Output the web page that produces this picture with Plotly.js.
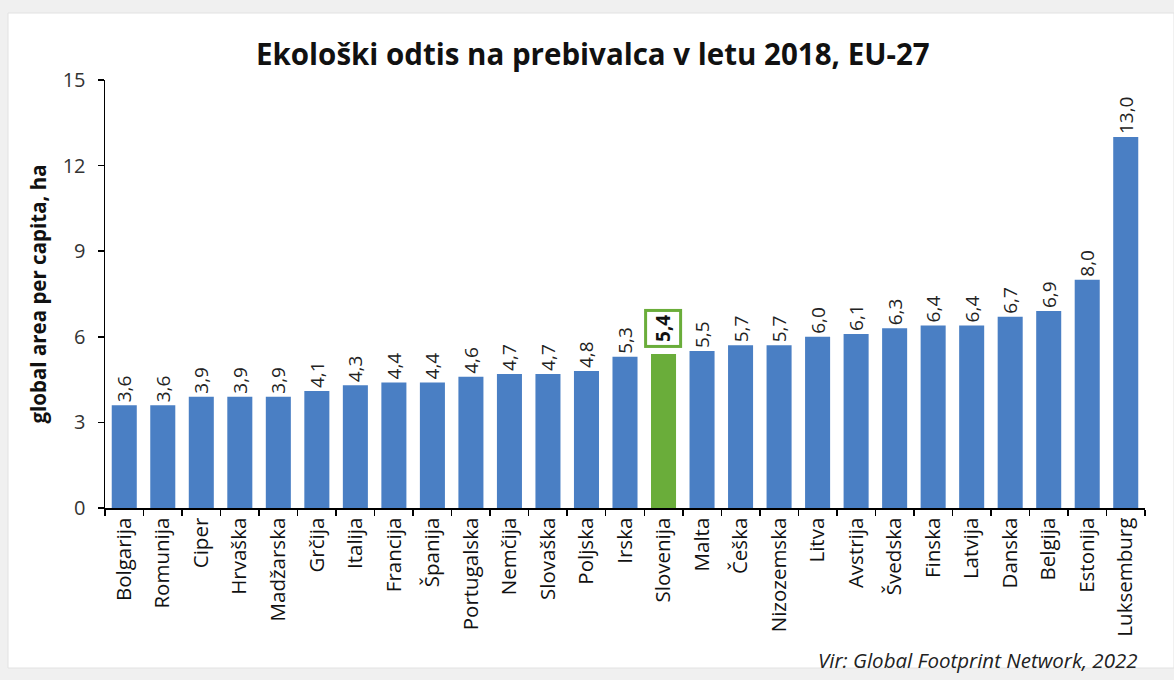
<!DOCTYPE html>
<html>
<head>
<meta charset="utf-8">
<script src="https://cdn.plot.ly/plotly-3.0.1.min.js"></script>
<style>html,body{margin:0;padding:0;background:#fff;}#chart{width:1174px;height:680px;}</style>
</head>
<body>
<div id="chart"></div>
<script>
const countries = ["Bolgarija","Romunija","Ciper","Hrvaška","Madžarska","Grčija","Italija","Francija","Španija","Portugalska","Nemčija","Slovaška","Poljska","Irska","Slovenija","Malta","Češka","Nizozemska","Litva","Avstrija","Švedska","Finska","Latvija","Danska","Belgija","Estonija","Luksemburg"];
const footprint = [3.6,3.6,3.9,3.9,3.9,4.1,4.3,4.4,4.4,4.6,4.7,4.7,4.8,5.3,5.4,5.5,5.7,5.7,6.0,6.1,6.3,6.4,6.4,6.7,6.9,8.0,13.0];
const highlight = "Slovenija";
const yTicks = [0,3,6,9,12,15];

const fmt = v => v.toFixed(1).replace('.', ',');
const BLUE = '#4a7fc4', GREEN = '#6aad3a';
const FONT = 'Open Sans, sans-serif';

const barColors = countries.map(c => c === highlight ? GREEN : BLUE);
const barText = countries.map((c, i) => c === highlight ? '' : fmt(footprint[i]));
const hi = countries.indexOf(highlight);

const trace = {
  type: 'bar',
  x: countries,
  y: footprint,
  marker: {color: barColors},
  text: barText,
  textposition: 'outside',
  textangle: -90,
  constraintext: 'none',
  textfont: {family: FONT, size: 19, color: '#222'},
  cliponaxis: false,
  hoverinfo: 'x+y'
};

const layout = {
  width: 1174, height: 680,
  margin: {l: 105, r: 29, t: 80, b: 172},
  paper_bgcolor: '#f0f0f0',
  plot_bgcolor: 'rgba(0,0,0,0)',
  bargap: 0.35,
  showlegend: false,
  font: {family: FONT, color: '#111'},
  title: {
    text: '<b>Ekološki odtis na prebivalca v letu 2018, EU-27</b>',
    font: {family: FONT, size: 29.5, color: '#111'},
    x: 0.505, xanchor: 'center', xref: 'container',
    y: 1 - 55/680, yanchor: 'middle', yref: 'container'
  },
  xaxis: {
    type: 'category',
    tickangle: -90,
    tickfont: {family: FONT, size: 20.5, color: '#111'},
    showline: true, linecolor: '#000', linewidth: 1.5,
    ticks: 'outside', tickson: 'boundaries', ticklen: 6, tickcolor: '#000', tickwidth: 1.5,
    showgrid: false, zeroline: false
  },
  yaxis: {
    range: [0, 15],
    tickvals: yTicks,
    ticktext: yTicks.map(String),
    tickfont: {family: FONT, size: 20, color: '#333'},
    ticklabelstandoff: 8,
    showline: true, linecolor: '#000', linewidth: 1.5,
    ticks: 'outside', ticklen: 6, tickcolor: '#000', tickwidth: 1.5,
    showgrid: false, zeroline: false,
    title: {text: '<b>global area per capita, ha</b>', font: {family: FONT, size: 20.5, color: '#111'}, standoff: 10}
  },
  shapes: [{
    type: 'rect', xref: 'paper', yref: 'paper', layer: 'below',
    x0: (8-105)/1040, x1: (1174-105)/1040,
    y0: (508-668)/428, y1: (508-13)/428,
    fillcolor: '#ffffff', line: {color: '#e2e2e2', width: 1}
  }],
  annotations: [
    {
      x: countries[hi], y: footprint[hi], xref: 'x', yref: 'y',
      text: '<b>' + fmt(footprint[hi]) + '</b>',
      textangle: -90, showarrow: false, yanchor: 'bottom', yshift: 6,
      font: {family: FONT, size: 19, color: '#111'},
      bordercolor: GREEN, borderwidth: 3, borderpad: 3, bgcolor: '#fff'
    },
    {
      xref: 'paper', yref: 'paper', x: (1140-105)/1040, y: (508-660)/428,
      xanchor: 'right', yanchor: 'middle', showarrow: false,
      text: '<i>Vir: Global Footprint Network, 2022</i>',
      font: {family: FONT, size: 20.5, color: '#222'}
    }
  ]
};

Plotly.newPlot('chart', [trace], layout, {displayModeBar: false, staticPlot: true});
</script>
</body>
</html>
